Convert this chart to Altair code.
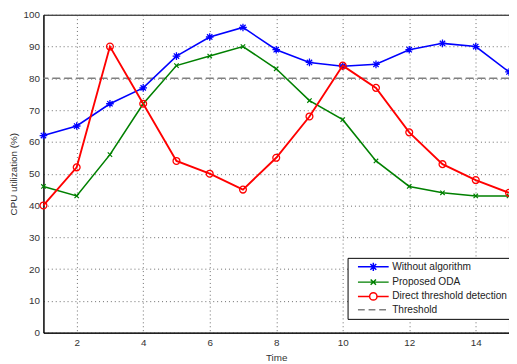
import altair as alt
import pandas as pd

time = list(range(1, 16))
without_alg = [62, 65, 72, 77, 87, 93, 96, 89, 85, 83.8, 84.4, 89, 91, 90, 82]
proposed_oda = [46, 43, 56, 72, 84, 87, 90, 83, 73, 67, 54, 46, 44, 43, 43]
direct_thr = [40, 52, 90, 72, 54, 50, 45, 55, 68, 84, 77, 63, 53, 48, 44]
threshold = 80

series_names = ["Without algorithm", "Proposed ODA", "Direct threshold detection", "Threshold"]
series_colors = ["#0000ff", "#008000", "#ff0000", "#808080"]

# marker shapes (unit paths)
star = "M0,-1V1M-1,0H1M-0.7,-0.7L0.7,0.7M-0.7,0.7L0.7,-0.7"
xmark = "M-1,-1L1,1M-1,1L1,-1"

leg_star = "M-5.2,0H5.2M0,-1.4V1.4M-1.4,0H1.4M-1,-1L1,1M-1,1L1,-1"
leg_x = "M-5.2,0H5.2M-0.9,-0.9L0.9,0.9M-0.9,0.9L0.9,-0.9"
leg_o = "M-5.2,0H-1.25M1.25,0H5.2M-1.25,0A1.25,1.25 0 1,0 1.25,0A1.25,1.25 0 1,0 -1.25,0"
leg_dash = "M-5.2,0H-2.9M-1.6,0H0.7M2.0,0H4.3"

FONT = "Liberation Sans"

df = pd.DataFrame({
    "time": time * 3,
    "value": without_alg + proposed_oda + direct_thr,
    "series": [series_names[0]] * 15 + [series_names[1]] * 15 + [series_names[2]] * 15,
})

xscale = alt.Scale(domain=[1, 15], nice=False, zero=False)
yscale = alt.Scale(domain=[0, 100], nice=False)

xaxis = alt.Axis(values=[2, 4, 6, 8, 10, 12, 14], title="Time", grid=True, ticks=False,
                 labelPadding=5, titlePadding=5)
yaxis = alt.Axis(values=list(range(0, 101, 10)), title="CPU utilization (%)", grid=True,
                 ticks=False, labelPadding=4, titlePadding=5)

base = alt.Chart(df)

layers = []
# threshold rule
layers.append(
    alt.Chart(pd.DataFrame({"thr": [threshold]})).mark_rule(
        color="#808080", strokeDash=[8, 4], strokeWidth=1.5
    ).encode(y=alt.Y("thr:Q", scale=yscale, axis=yaxis))
)

marker_specs = [
    (series_names[0], series_colors[0], star, 60, 1.6, 1.3),
    (series_names[1], series_colors[1], xmark, 20, 1.6, 1.2),
    (series_names[2], series_colors[2], "circle", 48, 1.9, 1.3),
]
for name, col, shape, size, lw, mw in marker_specs:
    sub = base.transform_filter(alt.datum.series == name)
    layers.append(
        sub.mark_line(color=col, strokeWidth=lw).encode(
            x=alt.X("time:Q", scale=xscale, axis=xaxis),
            y=alt.Y("value:Q", scale=yscale, axis=yaxis),
        )
    )
    layers.append(
        sub.mark_point(color=col, shape=shape, size=size, filled=False, strokeWidth=mw, opacity=1).encode(
            x=alt.X("time:Q", scale=xscale, axis=xaxis),
            y=alt.Y("value:Q", scale=yscale, axis=yaxis),
        )
    )

# legend-only layer (no marks drawn)
leg_df = pd.DataFrame({"series": series_names, "time": [1] * 4, "value": [0] * 4})
leg = alt.Legend(title=None, orient="none", legendX=309, legendY=247, symbolSize=36)
layers.append(
    alt.Chart(leg_df).transform_filter("false").mark_point(filled=False, size=36, opacity=1).encode(
        x=alt.X("time:Q", scale=xscale, axis=xaxis),
        y=alt.Y("value:Q", scale=yscale, axis=yaxis),
        color=alt.Color("series:N", scale=alt.Scale(domain=series_names, range=series_colors),
                        legend=leg),
        shape=alt.Shape("series:N", scale=alt.Scale(domain=series_names,
                                                    range=[leg_star, leg_x, leg_o, leg_dash]),
                        legend=leg),
    )
)

chart = alt.layer(*layers).properties(
    width=473, height=323,
    autosize=alt.AutoSizeParams(type="none"),
    padding={"left": 36, "top": 4, "right": 0, "bottom": 29},
).configure_view(
    stroke="#000000", strokeWidth=1
).configure_axis(
    labelFont=FONT, titleFont=FONT, labelFontSize=10, titleFontSize=10,
    labelColor="#333333", titleColor="#333333", titleFontWeight="normal",
    domainColor="#000000", domainWidth=1,
    gridColor="#444444", gridDash=[1, 3], gridWidth=1, gridOpacity=0.8,
).configure_legend(
    labelFont=FONT, labelFontSize=10.3, labelColor="#222222",
    fillColor="#ffffff", strokeColor="#000000", padding=4,
    symbolOffset=17, labelOffset=14, rowPadding=1.5, symbolStrokeWidth=1.5,
    symbolSize=36, cornerRadius=0,
)

chart.save("out.html", embed_options={"renderer": "svg", "actions": False})
